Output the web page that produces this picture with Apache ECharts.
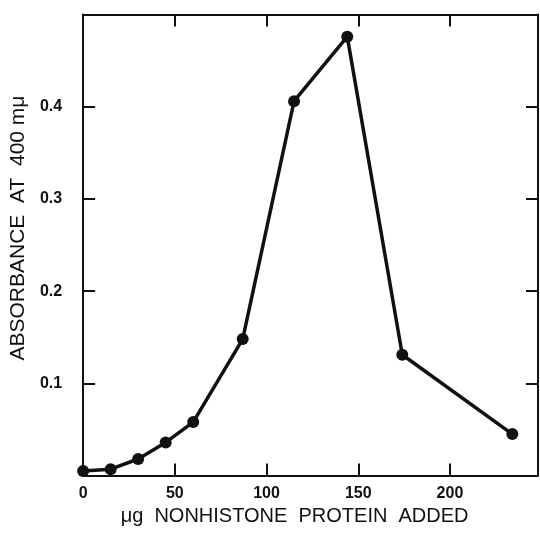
<!DOCTYPE html>
<html>
<head>
<meta charset="utf-8">
<script src="https://cdn.jsdelivr.net/npm/echarts@6/dist/echarts.min.js"></script>
<style>
  html, body { margin: 0; padding: 0; background: #fff; }
  #chart { width: 540px; height: 537px; }
</style>
</head>
<body>
<div id="chart"></div>
<script>
// protein added (ug) and absorbance at 400 mu
var proteinUg = [0, 15, 30, 45, 60, 87, 115, 144, 174, 234];
var absorbance = [0.005, 0.007, 0.018, 0.036, 0.058, 0.148, 0.406, 0.476, 0.131, 0.045];

var xTicks = [50, 100, 150, 200];
var xLabels = [0, 50, 100, 150, 200];
var yTicks = [0.1, 0.2, 0.3, 0.4];

var font = 'Liberation Sans, Arial, sans-serif';
var ink = '#111';

var chart = echarts.init(document.getElementById('chart'), null, { renderer: 'canvas' });

var lineStyle = { color: ink, width: 2 };

var option = {
  animation: false,
  backgroundColor: '#fff',
  grid: { left: 83, right: 2, top: 14.5, bottom: 61.4 },
  xAxis: [{
    type: 'value',
    position: 'bottom',
    min: 0,
    max: 248,
    name: 'μg  NONHISTONE  PROTEIN  ADDED',
    nameLocation: 'middle',
    nameGap: 31,
    nameTextStyle: { color: ink, fontFamily: font, fontSize: 20, padding: [0, 32, 0, 0] },
    axisLine: { onZero: false, lineStyle: lineStyle },
    axisTick: { inside: true, length: 12, lineStyle: lineStyle, customValues: xTicks },
    axisLabel: { color: ink, fontFamily: font, fontSize: 16, fontWeight: 'bold', margin: 10, customValues: xLabels },
    splitLine: { show: false }
  }, {
    type: 'value',
    position: 'top',
    min: 0,
    max: 248,
    axisLine: { onZero: false, lineStyle: lineStyle },
    axisTick: { inside: true, length: 12, lineStyle: lineStyle, customValues: xTicks },
    axisLabel: { show: false },
    splitLine: { show: false }
  }],
  yAxis: [{
    type: 'value',
    position: 'left',
    min: 0,
    max: 0.5,
    name: 'ABSORBANCE  AT  400 mμ',
    nameLocation: 'middle',
    nameGap: 49,
    nameTextStyle: { color: ink, fontFamily: font, fontSize: 21, padding: [0, 0, 0, 34] },
    axisLine: { onZero: false, lineStyle: lineStyle },
    axisTick: { inside: true, length: 12, lineStyle: lineStyle, customValues: yTicks },
    axisLabel: { color: ink, fontFamily: font, fontSize: 16, fontWeight: 'bold', margin: 21, customValues: yTicks },
    splitLine: { show: false }
  }, {
    type: 'value',
    position: 'right',
    min: 0,
    max: 0.5,
    axisLine: { onZero: false, lineStyle: lineStyle },
    axisTick: { inside: true, length: 12, lineStyle: lineStyle, customValues: yTicks },
    axisLabel: { show: false },
    splitLine: { show: false }
  }],
  series: [{
    type: 'line',
    xAxisIndex: 0,
    yAxisIndex: 0,
    data: proteinUg.map(function (x, i) { return [x, absorbance[i]]; }),
    symbol: 'circle',
    symbolSize: 12,
    itemStyle: { color: ink },
    lineStyle: { color: ink, width: 3.5 },
    z: 3
  }]
};

chart.setOption(option);
</script>
</body>
</html>
